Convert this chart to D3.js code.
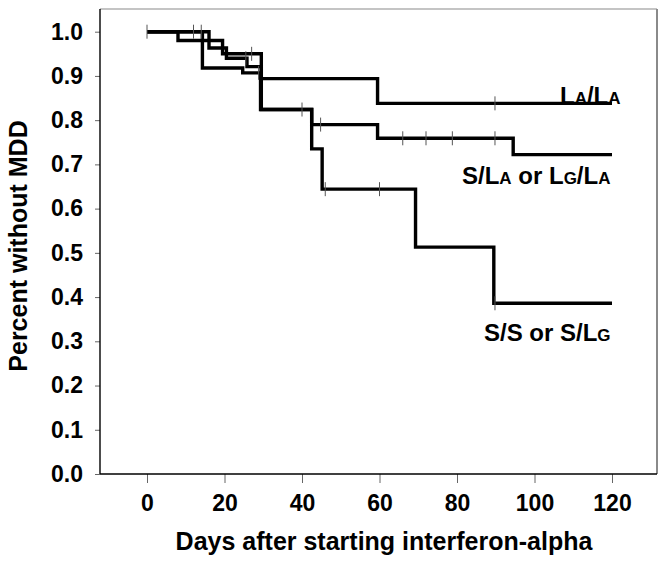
<!DOCTYPE html>
<html><head><meta charset="utf-8">
<script src="https://cdn.jsdelivr.net/npm/d3@7"></script>
<style>
body{margin:0;background:#fff}
text{font-family:"Liberation Sans",Arial,sans-serif;font-weight:bold;fill:#000}
</style>
</head><body>
<svg id="chart" width="665" height="561"></svg>
<script>
// ---- data ----
const xTicks = [0, 20, 40, 60, 80, 100, 120];
const yTicks = [0, 0.1, 0.2, 0.3, 0.4, 0.5, 0.6, 0.7, 0.8, 0.9, 1.0];
const endDay = 120;

const laTimes   = [0, 8, 19.5, 29.5, 59.5];
const laValues  = [1, 0.98, 0.95, 0.894, 0.838];
const laCensor  = [0, 27, 89.8];

const midTimes  = [0, 16, 20.5, 25.8, 29.5, 42.5, 59.5, 94.5];
const midValues = [1, 0.963, 0.94, 0.921, 0.824, 0.79, 0.759, 0.722];
const midCensor = [12, 14, 25.5, 40, 44.8, 66, 72, 78.8, 89.8];

const lowTimes  = [0, 14.3, 24.7, 29.3, 42.5, 45.2, 69.3, 89.5];
const lowValues = [1, 0.918, 0.907, 0.824, 0.735, 0.644, 0.513, 0.386];
const lowCensor = [28.8, 46, 60, 89.8];

const xTitle = "Days after starting interferon-alpha";
const yTitle = "Percent without MDD";

// ---- layout ----
const svg = d3.select("#chart");
const L = 100, R = 657, T = 9, B = 474;
const x = d3.scaleLinear().domain([0, 120]).range([147, 612]);
const y = d3.scaleLinear().domain([0, 1]).range([B, 31.7]);

// frame
svg.append("line").attr("x1", L).attr("x2", R).attr("y1", T).attr("y2", T)
  .attr("stroke", "#8a8a8a").attr("stroke-width", 1.2);
svg.append("line").attr("x1", R).attr("x2", R).attr("y1", T).attr("y2", B)
  .attr("stroke", "#8a8a8a").attr("stroke-width", 2);

// axes
const yAxis = svg.append("g").attr("transform", `translate(${L},0)`)
  .call(d3.axisLeft(y).tickValues(yTicks).tickFormat(d3.format(".1f")).tickSize(5).tickPadding(12));
const xAxis = svg.append("g").attr("transform", `translate(0,${B})`)
  .call(d3.axisBottom(x).tickValues(xTicks).tickSize(9).tickPadding(12));
[yAxis, xAxis].forEach(g => {
  g.select(".domain").remove();
  g.selectAll(".tick line").attr("stroke", "#666").attr("stroke-width", 1);
  g.selectAll(".tick text").attr("font-size", 23).attr("fill", "#000")
    .style("font-family", '"Liberation Sans",Arial,sans-serif').style("font-weight", "bold");
});
svg.append("line").attr("x1", L).attr("x2", L).attr("y1", T).attr("y2", B)
  .attr("stroke", "#000").attr("stroke-width", 1.4);
svg.append("line").attr("x1", L).attr("x2", R).attr("y1", B).attr("y2", B)
  .attr("stroke", "#000").attr("stroke-width", 1.4);

// titles
svg.append("text").attr("x", 384).attr("y", 550).attr("text-anchor", "middle")
  .attr("font-size", 25).text(xTitle);
svg.append("text").attr("transform", "translate(27,246) rotate(-90)")
  .attr("text-anchor", "middle").attr("font-size", 25).text(yTitle);

// curves
const series = [
  {t: laTimes, v: laValues, c: laCensor},
  {t: midTimes, v: midValues, c: midCensor},
  {t: lowTimes, v: lowValues, c: lowCensor}
];
const line = d3.line().x(d => x(d[0])).y(d => y(d[1])).curve(d3.curveStepAfter);
function valueAt(s, day) {
  let v = s.v[0];
  for (let i = 0; i < s.t.length; i++) if (s.t[i] <= day) v = s.v[i];
  return v;
}
series.forEach(s => {
  const pts = s.t.map((t, i) => [t, s.v[i]]);
  pts.push([endDay, s.v[s.v.length - 1]]);
  svg.append("path").attr("d", line(pts)).attr("fill", "none")
    .attr("stroke", "#000").attr("stroke-width", 3.4).attr("stroke-linejoin", "miter");
});
series.forEach(s => {
  s.c.forEach(day => {
    const cx = x(day), cy = y(valueAt(s, day));
    svg.append("line").attr("x1", cx).attr("x2", cx).attr("y1", cy - 7).attr("y2", cy + 7)
      .attr("stroke", "#555").attr("stroke-width", 1);
  });
});

// curve labels (small-cap letters)
function label(xp, yp, parts) {
  const t = svg.append("text").attr("x", xp).attr("y", yp).attr("font-size", 24);
  parts.forEach(p => t.append("tspan").attr("font-size", p[1] ? 17 : 24).text(p[0]));
}
label(560, 104, [["L",0],["A",1],["/L",0],["A",1]]);
label(462, 184, [["S/L",0],["A",1],[" or L",0],["G",1],["/L",0],["A",1]]);
label(484, 341, [["S/S or S/L",0],["G",1]]);
</script>
</body></html>
